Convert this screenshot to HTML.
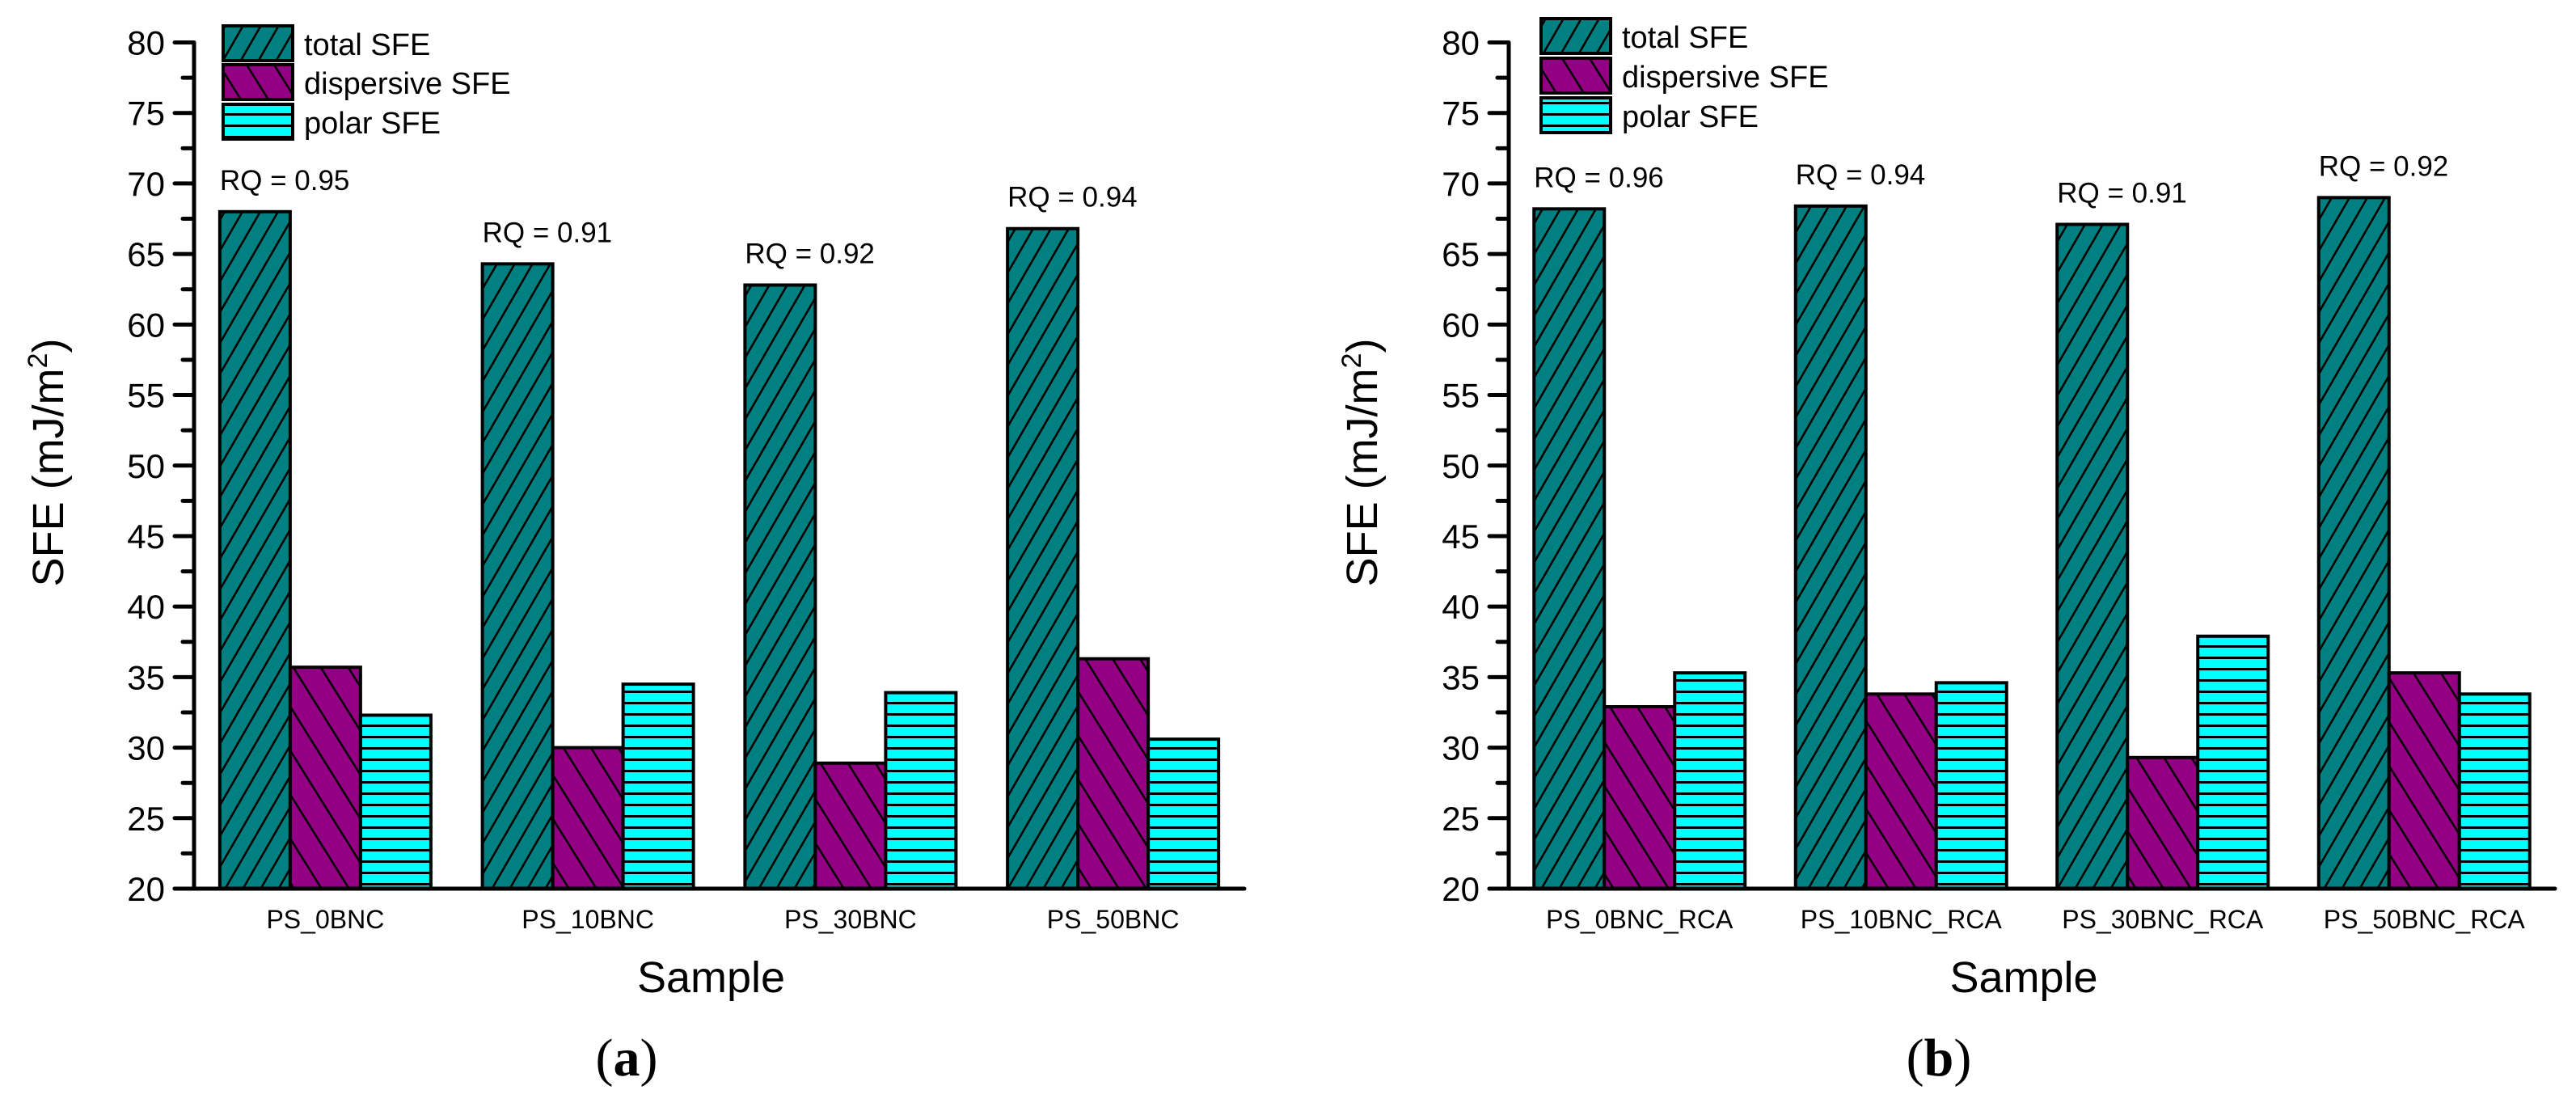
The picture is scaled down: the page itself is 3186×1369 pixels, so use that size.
<!DOCTYPE html>
<html><head><meta charset="utf-8"><style>
html,body{margin:0;padding:0;background:#fff;}
svg{display:block;font-family:"Liberation Sans",Arial,sans-serif;}
</style></head><body>
<svg id="chart" width="3186" height="1369" viewBox="0 0 3186 1369" xmlns="http://www.w3.org/2000/svg">
<defs>
<pattern id="hTotal" patternUnits="userSpaceOnUse" width="22" height="38" patternTransform="skewX(-30)">
<rect width="22" height="38" fill="#008080"/><line x1="11" y1="0" x2="11" y2="38" stroke="#000" stroke-width="3"/></pattern>
<pattern id="hDisp" patternUnits="userSpaceOnUse" width="34" height="60" patternTransform="skewX(32)">
<rect width="34" height="60" fill="#940083"/><line x1="17" y1="0" x2="17" y2="60" stroke="#000" stroke-width="3"/></pattern>
<pattern id="hPolar" patternUnits="userSpaceOnUse" width="20" height="14">
<rect width="20" height="14" fill="#00ffff"/><line x1="0" y1="1.5" x2="20" y2="1.5" stroke="#000" stroke-width="3"/></pattern>
</defs>
<g id="root"></g>
</svg>
<script>
const categoriesA = ["PS_0BNC","PS_10BNC","PS_30BNC","PS_50BNC"];
const totalA = [68.0, 64.3, 62.8, 66.8];
const dispA = [35.7, 30.0, 28.9, 36.3];
const polarA = [32.3, 34.5, 33.9, 30.6];
const rqA = ["0.95","0.91","0.92","0.94"];
const categoriesB = ["PS_0BNC_RCA","PS_10BNC_RCA","PS_30BNC_RCA","PS_50BNC_RCA"];
const totalB = [68.2, 68.4, 67.1, 69.0];
const dispB = [32.9, 33.8, 29.3, 35.3];
const polarB = [35.3, 34.6, 37.9, 33.8];
const rqB = ["0.96","0.94","0.91","0.92"];
const yTicks = [20,25,30,35,40,45,50,55,60,65,70,75,80];
const seriesNames = ["total SFE","dispersive SFE","polar SFE"];

const NS = "http://www.w3.org/2000/svg";
const root = document.getElementById("root");
function mk(tag, attrs, parent){
  const e = document.createElementNS(NS, tag);
  for (const k in attrs) e.setAttribute(k, attrs[k]);
  (parent||root).appendChild(e);
  return e;
}
const fills = ["url(#hTotal)","url(#hDisp)","url(#hPolar)"];
const keys = ["total","dispersive","polar"];

function panel(cfg){
  const g = mk("g", {});
  
  
  const x0 = cfg.x0, x1 = cfg.x1, yBase = 1099, yTop = 52.5;
  const yScale = v => yBase - (v - 20) * (yBase - yTop) / 60;
  const catW = (x1 - x0) / cfg.cats.length;
  const xc = i => x0 + catW * (i + 0.5);
  const bw = 87;
  // bars
  cfg.cats.forEach((c, i) => {
    const vals = [cfg.total[i], cfg.disp[i], cfg.polar[i]];
    vals.forEach((v, s) => {
      const bx = xc(i) - 1.5 * bw + s * bw;
      const r = mk("rect", {x: bx, y: yScale(v), width: bw, height: yBase - yScale(v), fill: fills[s], stroke: "#000", "stroke-width": 4}, g);
      
      
    });
    const t = mk("text", {x: xc(i) - 1.5 * bw, y: yScale(cfg.total[i]) - 27, "font-size": 35}, g);
    t.textContent = "RQ = " + cfg.rq[i];
    
    
    const xl = mk("text", {x: xc(i), y: 1148, "font-size": 32, "text-anchor": "middle"}, g);
    xl.textContent = c;
    
    
  });
  // axes
  const ya = mk("line", {x1: x0, y1: yTop, x2: x0, y2: yBase, stroke: "#000", "stroke-width": 5}, g);
  
  
  const xa = mk("line", {x1: x0 - 24, y1: yBase, x2: x1, y2: yBase, stroke: "#000", "stroke-width": 5, "stroke-linecap": "round"}, g);
  
  
  yTicks.forEach((v, k) => {
    const y = yScale(v);
    const tk = mk("line", {x1: x0 - 24, y1: y, x2: x0, y2: y, stroke: "#000", "stroke-width": 5, "stroke-linecap": "round"}, g);
    
    
    if (k < yTicks.length - 1) {
      const ym = yScale(v + 2.5);
      const mt = mk("line", {x1: x0 - 14, y1: ym, x2: x0, y2: ym, stroke: "#000", "stroke-width": 5, "stroke-linecap": "round"}, g);
      
      
    }
    const tl = mk("text", {x: x0 - 36, y: y + 15, "font-size": 42, "text-anchor": "end"}, g);
    tl.textContent = v;
    
    
  });
  // titles
  const yt = mk("text", {x: 0, y: 0, "font-size": 54, "text-anchor": "middle", transform: "translate(" + (cfg.yTitleX) + ",572) rotate(-90)"}, g);
  yt.innerHTML = 'SFE (mJ/m<tspan dy="-20" font-size="34">2</tspan><tspan dy="20">)</tspan>';
  
  
  const xt = mk("text", {x: (x0 + x1) / 2 - 10, y: 1227, "font-size": 54, "text-anchor": "middle"}, g);
  xt.textContent = "Sample";
  
  
  const pl = mk("text", {x: cfg.labelX, y: 1330, "font-size": 66, "text-anchor": "middle", "font-family": "Liberation Serif, serif"}, g);
  pl.innerHTML = '(<tspan font-weight="bold">' + cfg.letter + '</tspan>)';
  
  
  // legend
  cfg.legY.forEach((ly, s) => {
    const lr = mk("rect", {x: cfg.legX, y: ly, width: 86, height: 43, fill: fills[s], stroke: "#000", "stroke-width": 4}, g);
    
    
    const lt = mk("text", {x: cfg.legX + 100, y: ly + 36, "font-size": 38}, g);
    lt.textContent = seriesNames[s];
    
    
  });
}
panel({name: "panel-a", letter: "a", x0: 240, x1: 1539, cats: categoriesA, total: totalA, disp: dispA, polar: polarA, rq: rqA, yTitleX: 78, labelX: 775, legX: 276, legY: [32, 80, 129]});
panel({name: "panel-b", letter: "b", x0: 1866, x1: 3160, cats: categoriesB, total: totalB, disp: dispB, polar: polarB, rq: rqB, yTitleX: 1703, labelX: 2398, legX: 1906, legY: [23, 72, 121]});
</script>
</body></html>
